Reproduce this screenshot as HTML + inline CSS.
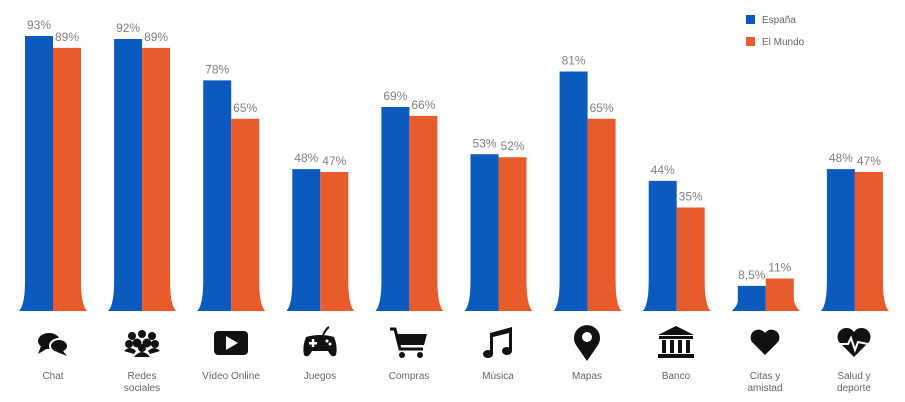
<!DOCTYPE html>
<html><head><meta charset="utf-8"><style>
body{margin:0;background:#fff;}
svg{display:block;font-family:"Liberation Sans",sans-serif;}
.v{font-size:12px;fill:#808080;text-anchor:middle}
.c{font-size:10px;fill:#666;text-anchor:middle}
</style></head><body>
<svg width="905" height="402" viewBox="0 0 905 402">
<rect x="746" y="15" width="9" height="9" fill="#0a5bbd"/>
<text x="762" y="23" font-size="10" fill="#666">España</text>
<rect x="746" y="37" width="9" height="9" fill="#e85c2c"/>
<text x="762" y="45" font-size="10" fill="#666">El Mundo</text>
<g id="bars"></g>
<g id="icons" fill="#111">
<g transform="translate(53,343)"><ellipse cx="-4" cy="-2" rx="11" ry="8"/><path d="M-12 3 L-15 11 L-5 5Z"/><ellipse cx="6" cy="3" rx="9" ry="7" fill="#111" stroke="#fff" stroke-width="2"/><path d="M10 8 L14 13 L4 9Z"/></g>
<g transform="translate(142,343)"><circle cx="-10" cy="-7" r="4"/><circle cx="0" cy="-9" r="4"/><circle cx="10" cy="-7" r="4"/><circle cx="-13" cy="1" r="4"/><circle cx="13" cy="1" r="4"/><circle cx="-5" cy="0" r="4.5"/><circle cx="5" cy="0" r="4.5"/><circle cx="0" cy="5" r="4"/><path d="M-8 14 Q0 4 8 14Z"/><path d="M-18 8 Q-12 2 -6 8 L-8 11Z"/><path d="M18 8 Q12 2 6 8 L8 11Z"/></g>
<g transform="translate(231,343)"><rect x="-17" y="-12" width="34" height="24" rx="4"/><path d="M-5 -7 L7 0 L-5 7Z" fill="#fff"/></g>
<g transform="translate(320,345)"><path d="M-14 -8 Q0 -12 14 -8 Q18 2 16 10 Q12 14 8 6 L-8 6 Q-12 14 -16 10 Q-18 2 -14 -8Z"/><rect x="-11" y="-3" width="8" height="2.5" fill="#fff"/><rect x="-8.2" y="-6" width="2.5" height="8" fill="#fff"/><circle cx="7" cy="-4" r="1.5" fill="#fff"/><circle cx="10" cy="-1" r="1.5" fill="#fff"/><path d="M3 -10 Q6 -16 9 -18" stroke="#111" stroke-width="2" fill="none"/></g>
<g transform="translate(409,343)"><path d="M-19 -14 L-14 -14 L-9 6 L14 6" stroke="#111" stroke-width="3" fill="none"/><path d="M-12 -9 L18 -9 L15 2 L-9 2Z"/><circle cx="-7" cy="12" r="3"/><circle cx="11" cy="12" r="3"/></g>
<g transform="translate(498,343)"><path d="M-8 -10 L14 -16 L14 8 L11 8 L11 -10 L-5 -6 L-5 12 L-8 12Z"/><ellipse cx="-10" cy="11" rx="5" ry="4"/><ellipse cx="9" cy="8" rx="5" ry="4"/></g>
<g transform="translate(587,343)"><path d="M0 18 L-11 2 A13 13 0 1 1 11 2Z"/><circle cx="0" cy="-6" r="5" fill="#fff"/></g>
<g transform="translate(676,343)"><path d="M-18 -8 L0 -17 L18 -8Z"/><rect x="-17" y="-7" width="34" height="3"/><rect x="-14" y="-3" width="4" height="13"/><rect x="-6" y="-3" width="4" height="13"/><rect x="2" y="-3" width="4" height="13"/><rect x="10" y="-3" width="4" height="13"/><rect x="-18" y="11" width="36" height="4"/></g>
<g transform="translate(765,343)"><path d="M0 12 L-13 -1 A7 7 0 0 1 0 -10 A7 7 0 0 1 13 -1Z"/></g>
<g transform="translate(854,343)"><path d="M0 14 L-15 -1 A8 8 0 0 1 0 -11 A8 8 0 0 1 15 -1Z"/><path d="M-14 1 L-6 1 L-3 -5 L1 7 L4 -1 L14 1" stroke="#fff" stroke-width="2" fill="none"/></g>
</g>
<g>
<text class="c" x="53" y="379">Chat</text>
<text class="c" x="142" y="379">Redes</text><text class="c" x="142" y="391">sociales</text>
<text class="c" x="231" y="379">Vídeo Online</text>
<text class="c" x="320" y="379">Juegos</text>
<text class="c" x="409" y="379">Compras</text>
<text class="c" x="498" y="379">Música</text>
<text class="c" x="587" y="379">Mapas</text>
<text class="c" x="676" y="379">Banco</text>
<text class="c" x="765" y="379">Citas y</text><text class="c" x="765" y="391">amistad</text>
<text class="c" x="854" y="379">Salud y</text><text class="c" x="854" y="391">deporte</text>
</g>
</svg>
<script>
var d=[[93,89,"93%","89%"],[92,89,"92%","89%"],[78,65,"78%","65%"],[48,47,"48%","47%"],[69,66,"69%","66%"],[53,52,"53%","52%"],[81,65,"81%","65%"],[44,35,"44%","35%"],[8.5,11,"8,5%","11%"],[48,47,"48%","47%"]];
var g=document.getElementById('bars'),s='',B=311,k=2.957;
d.forEach(function(r,i){var x=25+i*89.1;
var tb=B-r[0]*k,to=B-r[1]*k,f=Math.min(30,r[0]*k*0.4),fo=Math.min(30,r[1]*k*0.4);
s+='<path fill="#0a5bbd" d="M'+x+' '+tb+' L'+(x+28)+' '+tb+' L'+(x+28)+' '+B+' L'+(x-6)+' '+B+' Q'+x+' '+(B-6)+' '+x+' '+(B-f)+'Z"/>';
s+='<path fill="#e85c2c" d="M'+(x+28)+' '+to+' L'+(x+56)+' '+to+' L'+(x+56)+' '+(B-fo)+' Q'+(x+56)+' '+(B-6)+' '+(x+62)+' '+B+' L'+(x+28)+' '+B+'Z"/>';
s+='<text class="v" x="'+(x+14)+'" y="'+(tb-7)+'">'+r[2]+'</text><text class="v" x="'+(x+42)+'" y="'+(to-7)+'">'+r[3]+'</text>';
});
g.innerHTML=s;
</script>
</body></html>
